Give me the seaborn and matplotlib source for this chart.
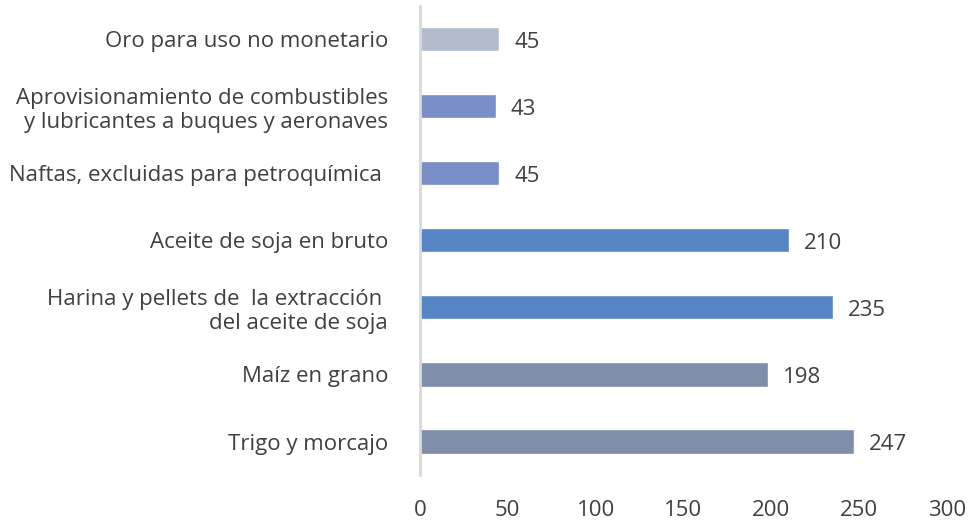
import pandas as pd
import seaborn as sns
import matplotlib.pyplot as plt

# datos
categorias = [
    'Oro para uso no monetario',
    'Aprovisionamiento de combustibles\ny lubricantes a buques y aeronaves',
    'Naftas, excluidas para petroquímica ',
    'Aceite de soja en bruto',
    'Harina y pellets de  la extracción \ndel aceite de soja',
    'Maíz en grano',
    'Trigo y morcajo',
]
valores = [45, 43, 45, 210, 235, 198, 247]
colores = ['#b3bccc', '#7a8fc8', '#7a8fc8', '#5686c5', '#5686c5', '#7f8fab', '#7f8fab']
ticks_x = [0, 50, 100, 150, 200, 250, 300]

df = pd.DataFrame({'categoria': categorias, 'valor': valores})

sns.set_style('white')
plt.rcParams['font.family'] = ['Open Sans', 'DejaVu Sans']
texto = '#404040'

fig = plt.figure(figsize=(9.7, 5.22), dpi=100)
ax = fig.add_axes([0.433, 0.09, 0.543, 0.899])

sns.barplot(data=df, x='valor', y='categoria', hue='categoria', palette=colores,
            legend=False, width=0.36, orient='h', ax=ax, saturation=1)

# etiquetas de valores (un poco por debajo del centro, como en el original)
for cont in ax.containers:
    etiquetas = ax.bar_label(cont, labels=[f'{v:.0f}' for v in cont.datavalues],
                             padding=11, fontsize=16, color=texto)
    for t in etiquetas:
        t.xyann = (11, -2.5)

ax.set_xlim(0, 300)
ax.set_ylim(6.5, -0.5)
ax.set_xticks(ticks_x)
ax.set_xlabel('')
ax.set_ylabel('')
ax.tick_params(axis='x', length=0, pad=18, labelsize=16, labelcolor=texto)
ax.tick_params(axis='y', length=0, pad=23, labelsize=16, labelcolor=texto)
for lbl in ax.get_yticklabels():
    lbl.set_multialignment('right')

for s in ['top', 'right', 'bottom']:
    ax.spines[s].set_visible(False)
ax.spines['left'].set_color('#d9d9d9')
ax.spines['left'].set_linewidth(2)

fig.savefig('out.png', dpi=100)
